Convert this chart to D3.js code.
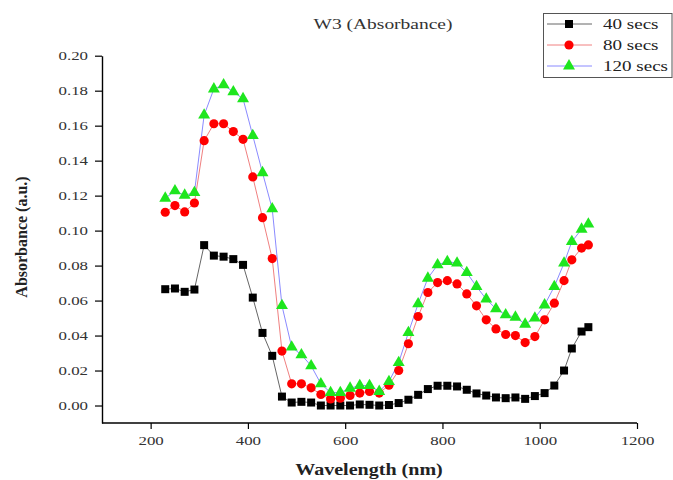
<!DOCTYPE html>
<html>
<head>
<meta charset="utf-8">
<script src="https://cdn.jsdelivr.net/npm/d3@7"></script>
<style>
  body { margin: 0; background: #fff; }
  svg { display: block; }
  text { font-family: 'Liberation Serif', 'DejaVu Serif', serif; }
</style>
</head>
<body>
<svg id="chart" width="673" height="480"></svg>
<script>
// wavelengths (nm)
const wavelength = [230, 250, 270, 290, 310, 330, 350, 370, 390, 410, 430, 450, 470, 490, 510, 530, 550, 570, 590, 610,
  630, 650, 670, 690, 710, 730, 750, 770, 790, 810, 830, 850, 870, 890, 910, 930, 950, 970, 990, 1010,
  1030, 1050, 1066, 1086, 1100]

const secs40 = [0.0665, 0.0669, 0.065, 0.0663, 0.0917, 0.0857, 0.0851, 0.0837, 0.0804, 0.0617, 0.0415, 0.0284, 0.0051, 0.0017, 0.0021, 0.0017, 0.0, 0.0, 0.0, 0.0,
  0.0006, 0.0004, 0.0, 0.0003, 0.0014, 0.0033, 0.0061, 0.0094, 0.0113, 0.0113, 0.0109, 0.009, 0.0069, 0.0057, 0.0046, 0.0042, 0.0046, 0.0038, 0.0054, 0.0071,
  0.0114, 0.02, 0.0326, 0.0423, 0.0448]

const secs80 = [0.1105, 0.1143, 0.1107, 0.1158, 0.1514, 0.1611, 0.1611, 0.1566, 0.1522, 0.1307, 0.1074, 0.084, 0.0311, 0.0124, 0.0124, 0.0101, 0.0063, 0.0037, 0.0042, 0.0057,
  0.0071, 0.008, 0.0071, 0.0116, 0.02, 0.0353, 0.0509, 0.0646, 0.0703, 0.0714, 0.0695, 0.0638, 0.057, 0.049, 0.0438, 0.0406, 0.04, 0.036, 0.0394, 0.049,
  0.0585, 0.0714, 0.0833, 0.09, 0.0918]

const secs120 = [0.1185, 0.1227, 0.1202, 0.1217, 0.166, 0.181, 0.1833, 0.1793, 0.1754, 0.1543, 0.1331, 0.1124, 0.0571, 0.0334, 0.029, 0.0227, 0.0124, 0.0074, 0.0074, 0.0099,
  0.0114, 0.0114, 0.008, 0.0137, 0.0245, 0.0417, 0.0581, 0.0728, 0.0804, 0.0823, 0.0814, 0.076, 0.068, 0.0608, 0.0553, 0.0518, 0.0505, 0.0465, 0.05, 0.0575,
  0.068, 0.0814, 0.0937, 0.1008, 0.1037]

const seriesNames = ['40 secs', '80 secs', '120 secs']
const xTicks = [200, 400, 600, 800, 1000, 1200]
const xMinorTicks = [300, 500, 700, 900, 1100]
const yTicks = [0, 0.02, 0.04, 0.06, 0.08, 0.10, 0.12, 0.14, 0.16, 0.18, 0.20]
const yMinorTicks = [-0.01, 0.01, 0.03, 0.05, 0.07, 0.09, 0.11, 0.13, 0.15, 0.17, 0.19]

const series = [
  { name: seriesNames[0], values: secs40, line: '#666', fill: '#000', shape: d3.symbolSquare, size: 64 },
  { name: seriesNames[1], values: secs80, line: '#f08080', fill: '#f00', shape: d3.symbolCircle, size: 66 },
  { name: seriesNames[2], values: secs120, line: '#8a8aff', fill: '#1ee61e', shape: d3.symbolTriangle, size: 62 }
]

// the original picture has its text widened
const SX = 1.35

const svg = d3.select('#chart')
const x = d3.scaleLinear().domain([100, 1200]).range([102, 637])
const y = d3.scaleLinear().domain([-0.01, 0.20]).range([423, 55.7])

// widened text placed at (px, py)
function wideText (parent, px, py, str, sx) {
  return parent.append('text')
    .attr('transform', `translate(${px},${py}) scale(${sx},1)`)
    .text(str)
}

// axes
const gx = svg.append('g').attr('transform', 'translate(0,423)')
gx.call(d3.axisBottom(x).tickValues(xMinorTicks).tickSize(4).tickFormat(''))
gx.call(d3.axisBottom(x).tickValues(xTicks).tickSize(6).tickSizeOuter(0).tickPadding(7).tickFormat(d3.format('d')))
const gy = svg.append('g').attr('transform', 'translate(102,0)')
gy.call(d3.axisLeft(y).tickValues(yMinorTicks).tickSize(4).tickFormat(''))
gy.call(d3.axisLeft(y).tickValues(yTicks).tickSize(7).tickSizeOuter(0).tickPadding(6).tickFormat(d3.format('.2f')))
svg.selectAll('.domain').attr('stroke', '#000').attr('stroke-width', 1.4)
svg.selectAll('.tick line').attr('stroke', '#000').attr('stroke-width', 1.2)
svg.selectAll('.tick text').attr('font-size', 12.5).attr('fill', '#333')
  .style('font-family', "'Liberation Serif', serif")
gx.selectAll('.tick text').attr('transform', `scale(${SX},1)`)
gy.selectAll('.tick text').attr('x', 0).attr('transform', `translate(-14,0) scale(${SX},1)`)
gx.select('.domain').attr('d', 'M102,0H637')

// lines and markers
const line = d3.line().x((d, i) => x(wavelength[i])).y(d => y(d))
series.forEach(s => {
  svg.append('path')
    .attr('d', line(s.values))
    .attr('fill', 'none')
    .attr('stroke', s.line)
    .attr('stroke-width', 1)
})
series.forEach(s => {
  svg.append('g').selectAll('path')
    .data(s.values)
    .join('path')
    .attr('transform', (d, i) => `translate(${x(wavelength[i])},${y(d)})`)
    .attr('d', d3.symbol(s.shape, s.size))
    .attr('fill', s.fill)
})

// titles
wideText(svg, 383, 29, 'W3 (Absorbance)', 1.3)
  .attr('text-anchor', 'middle')
  .attr('font-size', 15).attr('fill', '#333')
wideText(svg, 369, 475, 'Wavelength (nm)', 1.18)
  .attr('text-anchor', 'middle')
  .attr('font-size', 17).attr('font-weight', 'bold').attr('fill', '#222')
svg.append('text')
  .attr('transform', 'translate(27,237) rotate(-90)')
  .attr('text-anchor', 'middle')
  .attr('font-size', 16).attr('font-weight', 'bold').attr('fill', '#222')
  .text('Absorbance (a.u.)')

// legend
const legend = svg.append('g')
legend.append('rect')
  .attr('x', 543.5).attr('y', 13.5).attr('width', 128.5).attr('height', 64)
  .attr('fill', '#fff').attr('stroke', '#555')
series.forEach((s, i) => {
  const ly = 24 + i * 21
  legend.append('line')
    .attr('x1', 547).attr('x2', 592).attr('y1', ly).attr('y2', ly)
    .attr('stroke', s.line).attr('stroke-width', 1)
  legend.append('path')
    .attr('transform', `translate(569,${ly})`)
    .attr('d', d3.symbol(s.shape, s.size))
    .attr('fill', s.fill)
  wideText(legend, 603, ly + 5, s.name, 1.27)
    .attr('font-size', 15).attr('fill', '#222')
})
</script>
</body>
</html>
